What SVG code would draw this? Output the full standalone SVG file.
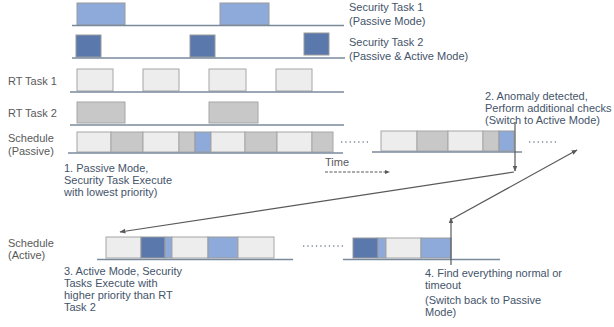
<svg xmlns="http://www.w3.org/2000/svg" width="614" height="327" viewBox="0 0 614 327">
<defs>
<style>
text{font-family:"Liberation Sans",Arial,sans-serif;font-size:11px}
.lbl{fill:#595959}
.ann{fill:#44546a}
.axis{stroke:#7a8a9c;stroke-width:1.3;fill:none}
.lb{fill:#8eaadb;stroke:#9a9a9a;stroke-width:1}
.db{fill:#5b78ad;stroke:#9a9a9a;stroke-width:1}
.lg{fill:#ededed;stroke:#a6a6a6;stroke-width:1}
.gr{fill:#c8c8c8;stroke:#a6a6a6;stroke-width:1}
.dots{stroke:#7a8a9c;stroke-width:1.3;stroke-dasharray:1.3 3;fill:none}
.conn{stroke:#595959;stroke-width:1.2;fill:none}
</style>
<marker id="ah" viewBox="0 0 10 10" refX="9" refY="5" markerWidth="6" markerHeight="6" orient="auto-start-reverse" markerUnits="userSpaceOnUse">
<path d="M0,1 L10,5 L0,9 z" fill="#595959"/>
</marker>
</defs>

<g id="security-task-1">
<rect class="lb" x="77" y="3" width="48" height="22"/>
<rect class="lb" x="220" y="3" width="49" height="22"/>
<line class="axis" x1="72" y1="25.5" x2="344" y2="25.5"/>
<text class="ann" x="349" y="11">Security Task 1</text>
<text class="ann" x="349" y="25">(Passive Mode)</text>
</g>

<g id="security-task-2">
<rect class="db" x="76" y="35" width="25" height="22"/>
<rect class="db" x="190" y="35" width="25" height="22"/>
<rect class="db" x="304" y="33" width="25" height="22"/>
<line class="axis" x1="72" y1="58" x2="345" y2="58"/>
<text class="ann" x="349" y="46">Security Task 2</text>
<text class="ann" x="349" y="60">(Passive &amp; Active Mode)</text>
</g>

<g id="rt-task-1">
<text class="lbl" x="8" y="85">RT Task 1</text>
<rect class="lg" x="77" y="69" width="36" height="22"/>
<rect class="lg" x="143" y="69" width="36" height="22"/>
<rect class="lg" x="209" y="69" width="37" height="22"/>
<rect class="lg" x="276" y="69" width="36" height="22"/>
<line class="axis" x1="70" y1="92" x2="344" y2="92"/>
</g>

<g id="rt-task-2">
<text class="lbl" x="8" y="117">RT Task 2</text>
<rect class="gr" x="77" y="102" width="48" height="21"/>
<rect class="gr" x="209" y="102" width="49" height="21"/>
<line class="axis" x1="70" y1="125" x2="344" y2="125"/>
</g>

<g id="schedule-passive">
<text class="lbl" x="8" y="142">Schedule</text>
<text class="lbl" x="8" y="155">(Passive)</text>
<rect class="lg" x="77" y="132" width="34" height="20"/>
<rect class="gr" x="111" y="132" width="32" height="20"/>
<rect class="lg" x="143" y="132" width="36" height="20"/>
<rect class="gr" x="179" y="132" width="16" height="20"/>
<rect class="lb" x="195" y="132" width="16" height="20"/>
<rect class="lg" x="211" y="132" width="34" height="20"/>
<rect class="gr" x="245" y="132" width="32" height="20"/>
<rect class="lg" x="277" y="132" width="35" height="20"/>
<rect class="gr" x="312" y="132" width="21" height="20"/>
<line class="axis" x1="68" y1="153" x2="343" y2="153"/>
<line class="dots" x1="341" y1="142" x2="368" y2="142"/>
<rect class="lg" x="381" y="131" width="36" height="20"/>
<rect class="gr" x="417" y="131" width="31" height="20"/>
<rect class="lg" x="448" y="131" width="35" height="20"/>
<rect class="gr" x="483" y="131" width="16" height="20"/>
<rect class="lb" x="499" y="131" width="15" height="20"/>
<line class="axis" x1="372" y1="152" x2="522" y2="152"/>
<line class="dots" x1="529" y1="142" x2="556" y2="142"/>
</g>

<g id="time-axis">
<text class="lbl" x="325" y="166">Time</text>
<line x1="325" y1="172" x2="386" y2="172" stroke="#595959" stroke-width="1" stroke-dasharray="3 1.5"/>
<path d="M385,170 L390,172 L385,174 z" fill="#595959"/>
</g>

<g id="note-1">
<text class="ann" x="64" y="172">1. Passive Mode,</text>
<text class="ann" x="64" y="184">Security Task Execute</text>
<text class="ann" x="64" y="196">with lowest priority)</text>
</g>

<g id="note-2">
<text class="ann" x="485" y="100">2. Anomaly detected,</text>
<text class="ann" x="485" y="112">Perform additional checks</text>
<text class="ann" x="485" y="124">(Switch to Active Mode)</text>
</g>

<g id="schedule-active">
<text class="lbl" x="8" y="247">Schedule</text>
<text class="lbl" x="8" y="259">(Active)</text>
<rect class="lg" x="106" y="237" width="35" height="21"/>
<rect class="db" x="141" y="237" width="24" height="21"/>
<rect class="lb" x="165" y="237" width="7" height="21"/>
<rect class="lg" x="172" y="237" width="36" height="21"/>
<rect class="lb" x="208" y="237" width="30" height="21"/>
<rect class="lg" x="238" y="237" width="36" height="21"/>
<line class="axis" x1="97" y1="259.5" x2="293" y2="259.5"/>
<line class="dots" x1="303" y1="246" x2="343" y2="246"/>
<rect class="db" x="353" y="238" width="25" height="20"/>
<rect class="lb" x="378" y="238" width="8" height="20"/>
<rect class="lg" x="386" y="238" width="35" height="20"/>
<rect class="lb" x="421" y="238" width="30" height="20"/>
<line class="axis" x1="343" y1="259.5" x2="500" y2="259.5"/>
</g>

<g id="note-3">
<text class="ann" x="64" y="275">3. Active Mode, Security</text>
<text class="ann" x="64" y="287">Tasks Execute with</text>
<text class="ann" x="64" y="299">higher priority than RT</text>
<text class="ann" x="64" y="311">Task 2</text>
</g>

<g id="note-4">
<text class="ann" x="425" y="277">4. Find everything normal or</text>
<text class="ann" x="425" y="289">timeout</text>
<text class="ann" x="425" y="304">(Switch back to Passive</text>
<text class="ann" x="425" y="316">Mode)</text>
</g>

<g id="connectors">
<line class="conn" x1="515" y1="122" x2="515" y2="171" marker-end="url(#ah)"/>
<line class="conn" x1="514" y1="172" x2="120" y2="232" marker-end="url(#ah)"/>
<line class="conn" x1="451" y1="265" x2="451" y2="218" marker-end="url(#ah)"/>
<line class="conn" x1="452" y1="219" x2="577" y2="150" marker-end="url(#ah)"/>
</g>
</svg>
